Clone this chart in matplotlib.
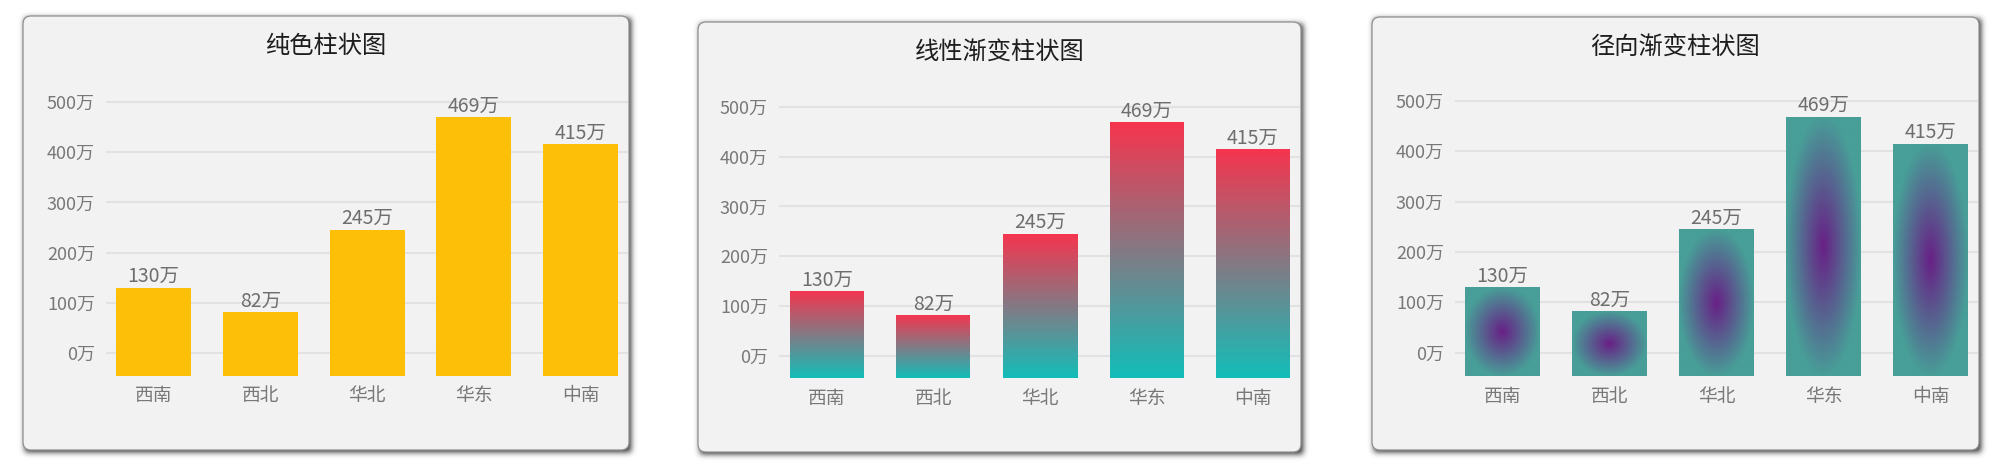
import numpy as np
import matplotlib
matplotlib.use("Agg")
import matplotlib.pyplot as plt
from matplotlib.patches import FancyBboxPatch

plt.rcParams['font.family'] = ['Noto Sans CJK SC', 'DejaVu Sans']

# ---------------- data ----------------
categories = ['西南', '西北', '华北', '华东', '中南']
values = [130, 82, 245, 469, 415]
yticks = [0, 100, 200, 300, 400, 500]
unit = '万'
titles = ['纯色柱状图', '线性渐变柱状图', '径向渐变柱状图']

# ---------------- layout (pixels) ----------------
W, H = 1999, 474
panels = [
    dict(box=(23, 16, 629, 450), axL=106, axR=628, zero=353.3, five=101.7, bottom=375.7, c0=153.5, sp=106.75, bw=75),
    dict(box=(698, 22, 1301, 452), axL=779, axR=1300, zero=356.0, five=106.7, bottom=378.3, c0=827.0, sp=106.5, bw=74),
    dict(box=(1372, 17, 1979, 450), axL=1455, axR=1978, zero=352.5, five=101.0, bottom=376.0, c0=1502.5, sp=107.0, bw=75),
]

fig = plt.figure(figsize=(W / 100, H / 100), dpi=100, facecolor='white')

# background axes for panel boxes and shadows
bg = fig.add_axes([0, 0, 1, 1], zorder=0)
bg.set_xlim(0, W)
bg.set_ylim(H, 0)
bg.axis('off')

# shadow mask
mask = np.zeros((H, W))
yy, xx = np.mgrid[0:H, 0:W]
for p in panels:
    x0, y0, x1, y1 = p['box']
    off = 1.5
    m = (xx >= x0 + off) & (xx <= x1 + off) & (yy >= y0 + off) & (yy <= y1 + off)
    mask[m] = 1.0
sig = 3.0
kr = np.arange(-10, 11)
ker = np.exp(-kr ** 2 / (2 * sig ** 2))
ker /= ker.sum()
mask = np.apply_along_axis(lambda r: np.convolve(r, ker, mode='same'), 1, mask)
mask = np.apply_along_axis(lambda c: np.convolve(c, ker, mode='same'), 0, mask)
shadow = np.zeros((H, W, 4))
shadow[..., 3] = np.clip(mask * 0.85, 0, 1)
bg.imshow(shadow, extent=(0, W, H, 0), interpolation='bilinear', zorder=1)

for p in panels:
    x0, y0, x1, y1 = p['box']
    bg.add_patch(FancyBboxPatch((x0, y0), x1 - x0, y1 - y0,
                                boxstyle='round,pad=0,rounding_size=8',
                                facecolor='#f2f2f2', edgecolor='#8f8f8f', lw=0.9, zorder=2))

# gradient colours
lin_top = np.array([247, 52, 78]) / 255
lin_bot = np.array([18, 190, 185]) / 255
rad_center = np.array([104, 32, 134]) / 255
rad_edge = np.array([72, 158, 152]) / 255

for i, p in enumerate(panels):
    k = (p['zero'] - p['five']) / 500.0
    ymin = -(p['bottom'] - p['zero']) / k
    top_px = 70
    ymax = (p['zero'] - top_px) / k
    xl = (p['axL'] - p['c0']) / p['sp']
    xr = (p['axR'] - p['c0']) / p['sp']
    ax = fig.add_axes([p['axL'] / W, 1 - p['bottom'] / H,
                       (p['axR'] - p['axL']) / W, (p['bottom'] - top_px) / H], zorder=3)
    ax.set_facecolor('none')
    ax.set_xlim(xl, xr)
    ax.set_ylim(ymin, ymax)
    for s in ax.spines.values():
        s.set_visible(False)
    ax.set_yticks(yticks)
    ax.set_yticklabels([f'{t}{unit}' for t in yticks])
    ax.set_xticks(range(len(categories)))
    ax.set_xticklabels(categories)
    ax.tick_params(axis='y', length=0, pad=8, labelsize=13, labelcolor='#787878')
    ax.tick_params(axis='x', length=0, pad=7, labelsize=13.5, labelcolor='#787878')
    ax.yaxis.grid(True, color='#e2e2e2', lw=1.5)
    ax.set_axisbelow(True)

    x = np.arange(len(categories))
    heights = [v - ymin for v in values]
    bw = p['bw'] / p['sp']
    if i == 0:
        bars = ax.bar(x, heights, bottom=ymin, width=bw, color='#fdbf08', zorder=2)
    else:
        bars = ax.bar(x, heights, bottom=ymin, width=bw, color='none', zorder=2)
        for rect in bars:
            bx, by = rect.get_x(), rect.get_y()
            bw_, bh = rect.get_width(), rect.get_height()
            if i == 1:
                t = np.linspace(0, 1, 256)[:, None]  # 0 bottom -> 1 top
                img = (lin_bot[None, :] * (1 - t) + lin_top[None, :] * t)[:, None, :]
                img = np.repeat(img, 2, axis=1)
                im = ax.imshow(img, extent=(bx, bx + bw_, by, by + bh), origin='lower',
                               aspect='auto', interpolation='bilinear', zorder=2)
            else:
                gy, gx = np.mgrid[0:200, 0:100]
                u = (gx + 0.5) / 100 - 0.5
                v = (gy + 0.5) / 200 - 0.5
                r = np.clip(np.sqrt((u / 0.5) ** 2 + (v / 0.5) ** 2), 0, 1)
                img = rad_center[None, None, :] * (1 - r[..., None]) + rad_edge[None, None, :] * r[..., None]
                im = ax.imshow(img, extent=(bx, bx + bw_, by, by + bh), origin='lower',
                               aspect='auto', interpolation='bilinear', zorder=2)
            im.set_clip_path(rect)
    ax.set_xlim(xl, xr)
    ax.set_ylim(ymin, ymax)

    for xi, v in zip(x, values):
        ax.annotate(f'{v}{unit}', (xi, v), xytext=(0, 0.5), textcoords='offset points',
                    ha='center', va='bottom', fontsize=14, color='#6e6e6e', zorder=4)

    x0, y0, x1, y1 = p['box']
    fig.text(((x0 + x1) / 2) / W, 1 - (y0 + 30) / H, titles[i], ha='center', va='center',
             fontsize=17.5, color='#1e1e1e', zorder=5)

fig.savefig('out.png', dpi=100, facecolor='white')
